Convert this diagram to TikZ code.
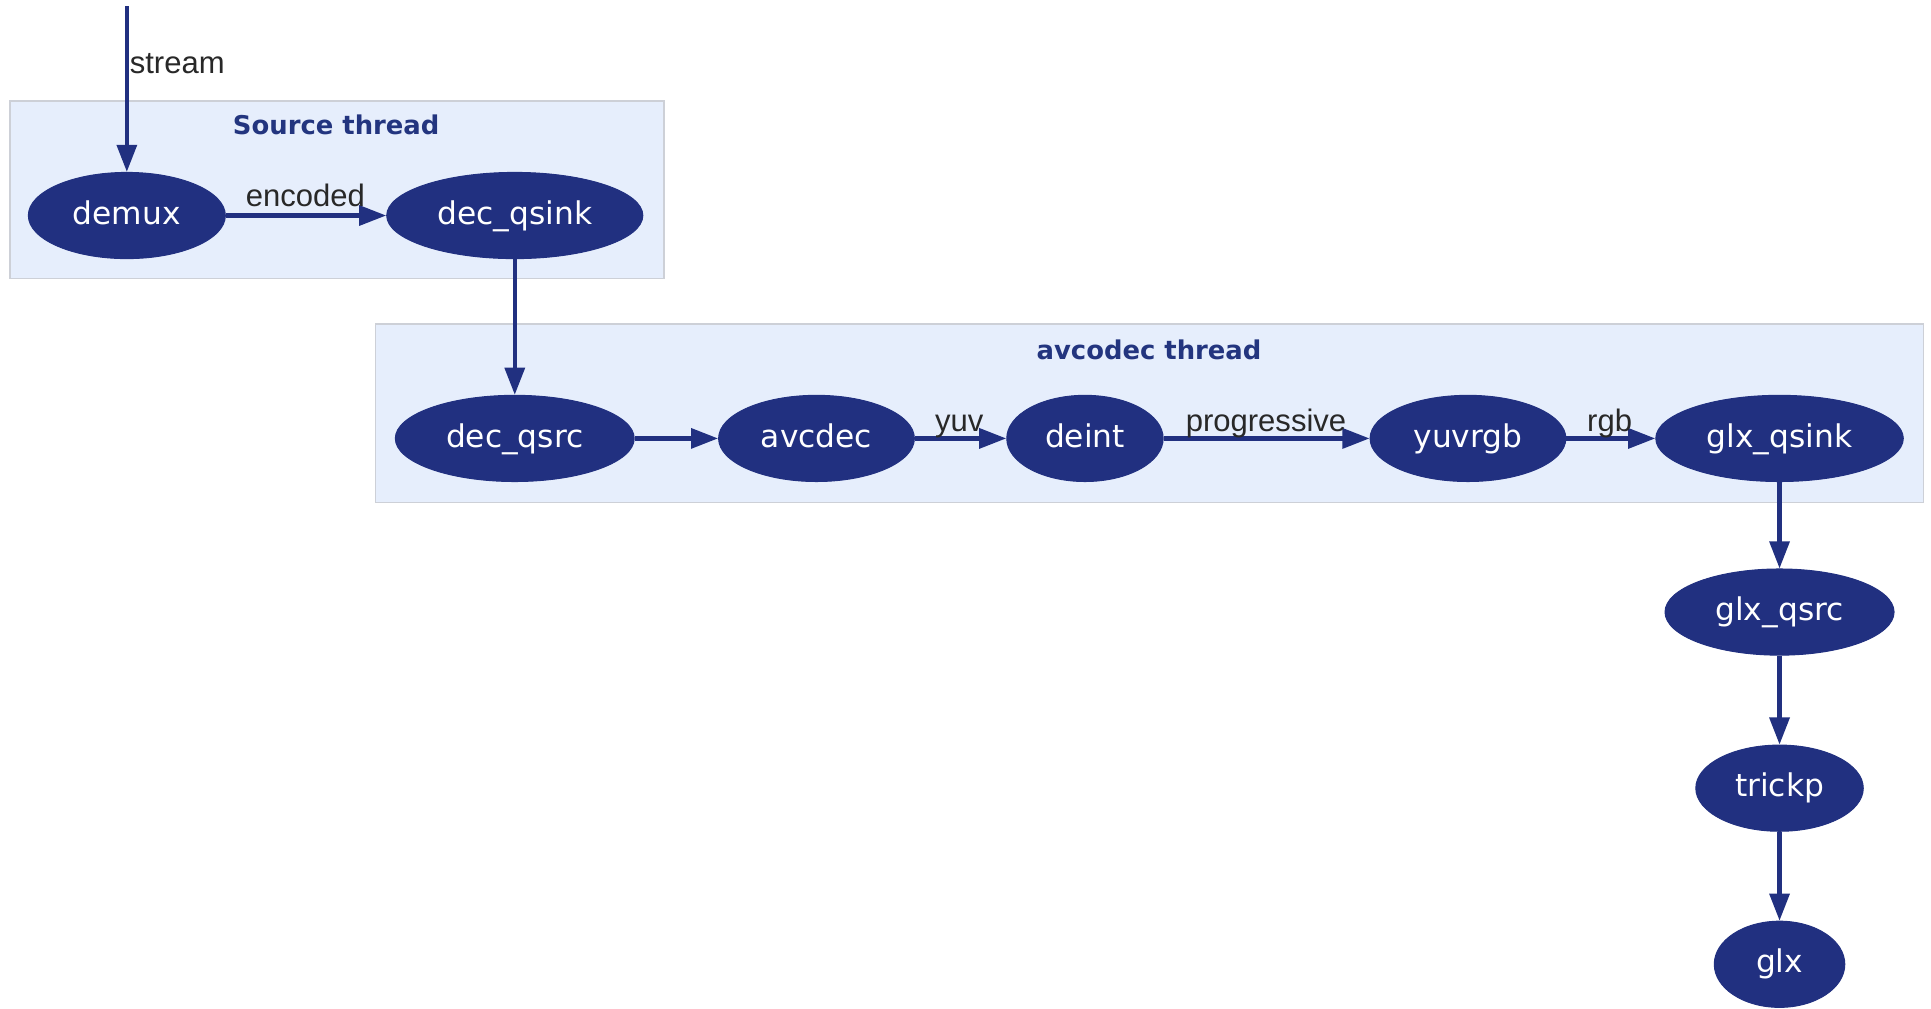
\documentclass[tikz,border=0pt]{standalone}
\usepackage{fontspec}
\setmainfont{DejaVu Sans}
\newfontfamily\lblfont{Liberation Sans}
\usetikzlibrary{shapes.geometric,arrows.meta}
\definecolor{navy}{RGB}{33,48,128}
\definecolor{clusterfill}{RGB}{230,238,252}
\definecolor{clusterdraw}{RGB}{205,208,215}
\definecolor{titlecol}{RGB}{35,53,127}
\definecolor{lblcol}{RGB}{40,40,40}
\tikzset{
  gnode/.style={ellipse, fill=navy, draw=navy, text=white, inner sep=0pt,
    minimum height=35pt, text height=9.5pt, text depth=2.5pt,
    font=\fontsize{12.7}{14}\selectfont},
  conn/.style={draw=navy, line width=1.7pt, -{Triangle[length=11pt,width=8pt]}},
  elabel/.style={font=\lblfont\fontsize{12.6}{14}\selectfont, text=lblcol, inner sep=0pt},
  cluster/.style={fill=clusterfill, draw=clusterdraw, line width=0.6pt},
  ctitle/.style={font=\bfseries\fontsize{10.5}{12}\selectfont, text=titlecol, inner sep=0pt}
}
\begin{document}
\begin{tikzpicture}[x=0.5pt,y=-0.5pt]
\useasboundingbox[fill=white] (0,0) rectangle (1568,819);
% clusters
\draw[cluster] (8,82) rectangle (539,226);
\node[ctitle] (srctitle) at (273,101) {Source thread};
\draw[cluster] (305,263) rectangle (1562,408);
\node[ctitle] (avtitle) at (933,284) {avcodec thread};
% nodes
\node[gnode, minimum width=80pt] (demux) at (103,175) {demux};
\node[gnode, minimum width=104pt] (decqsink) at (418,175) {dec\_qsink};
\node[gnode, minimum width=97pt] (decqsrc) at (418,356) {dec\_qsrc};
\node[gnode, minimum width=79.5pt] (avcdec) at (663,356) {avcdec};
\node[gnode, minimum width=63.5pt] (deint) at (881,356) {deint};
\node[gnode, minimum width=79.5pt] (yuvrgb) at (1192,356) {yuvrgb};
\node[gnode, minimum width=100.5pt] (glxqsink) at (1445,356) {glx\_qsink};
\node[gnode, minimum width=93pt] (glxqsrc) at (1445,497) {glx\_qsrc};
\node[gnode, minimum width=68pt] (trickp) at (1445,640) {trickp};
\node[gnode, minimum width=53pt] (glx) at (1445,783) {glx};
\coordinate (start) at (103,5);
% edges
\draw[conn] (start) -- (demux);
\node[elabel, anchor=base west] (lstream) at (105,60) {stream};
\draw[conn] (demux) -- (decqsink);
\node[elabel, anchor=base] (lenc) at (248,168) {encoded};
\draw[conn] (decqsink) -- (decqsrc);
\draw[conn] (decqsrc) -- (avcdec);
\draw[conn] (avcdec) -- (deint);
\node[elabel, anchor=base] (lyuv) at (779,350) {yuv};
\draw[conn] (deint) -- (yuvrgb);
\node[elabel, anchor=base] (lprog) at (1028,350) {progressive};
\draw[conn] (yuvrgb) -- (glxqsink);
\node[elabel, anchor=base] (lrgb) at (1307,350) {rgb};
\draw[conn] (glxqsink) -- (glxqsrc);
\draw[conn] (glxqsrc) -- (trickp);
\draw[conn] (trickp) -- (glx);
\end{tikzpicture}
\end{document}
